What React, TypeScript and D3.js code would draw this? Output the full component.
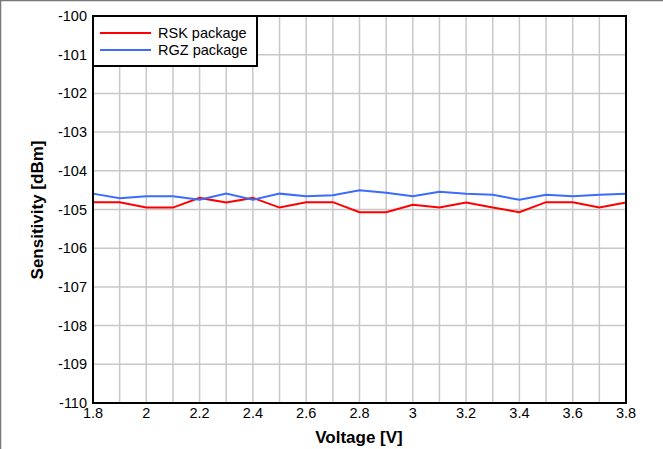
import React from "react";
import * as d3 from "d3";

const voltages = [1.8, 1.9, 2.0, 2.1, 2.2, 2.3, 2.4, 2.5, 2.6, 2.7, 2.8, 2.9, 3.0, 3.1, 3.2, 3.3, 3.4, 3.5, 3.6, 3.7, 3.8];
const rskValues = [-104.81, -104.81, -104.95, -104.95, -104.7, -104.82, -104.7, -104.95, -104.81, -104.81, -105.07, -105.07, -104.88, -104.95, -104.82, -104.95, -105.07, -104.81, -104.81, -104.95, -104.82];
const rgzValues = [-104.59, -104.71, -104.66, -104.66, -104.75, -104.59, -104.75, -104.59, -104.66, -104.63, -104.5, -104.57, -104.66, -104.54, -104.59, -104.62, -104.75, -104.62, -104.66, -104.62, -104.59];
const xTicks = [1.8, 2.0, 2.2, 2.4, 2.6, 2.8, 3.0, 3.2, 3.4, 3.6, 3.8];
const yTicks = [-100, -101, -102, -103, -104, -105, -106, -107, -108, -109, -110];
const seriesNames = ["RSK package", "RGZ package"];
const seriesColors = ["#ff0000", "#3a6cff"];

export default function App() {
  const W = 663, H = 449;
  const left = 93, right = 626, top = 16, bottom = 403;
  const x = d3.scaleLinear().domain([1.8, 3.8]).range([left, right]);
  const y = d3.scaleLinear().domain([-110, -100]).range([bottom, top]);
  const line = d3.line<number>().x((_, i) => x(voltages[i])).y((d) => y(d));
  const series = [rskValues, rgzValues];
  const font = "'Liberation Sans', Arial, sans-serif";
  return (
    <svg width={W} height={H} style={{ position: "absolute", left: 0, top: 0 }} fontFamily={font}>
      <rect x={0} y={0} width={W} height={H} fill="#fff" />
      <line x1={0} y1={0.5} x2={W} y2={0.5} stroke="#777" strokeWidth={1.5} />
      <line x1={0.5} y1={0} x2={0.5} y2={H} stroke="#777" strokeWidth={1.5} />
      {voltages.map((v) => (
        <line key={"gx" + v} x1={x(v)} x2={x(v)} y1={top} y2={bottom} stroke="#c8c8c8" strokeWidth={1.5} />
      ))}
      {yTicks.map((t) => (
        <line key={"gy" + t} x1={left} x2={right} y1={y(t)} y2={y(t)} stroke="#c8c8c8" strokeWidth={1.5} />
      ))}
      {series.map((s, i) => (
        <path key={i} d={line(s) || ""} fill="none" stroke={seriesColors[i]} strokeWidth={2} />
      ))}
      <rect x={left} y={top} width={right - left} height={bottom - top} fill="none" stroke="#000" strokeWidth={2} />
      {yTicks.map((t) => (
        <text key={"ty" + t} x={left - 6} y={y(t)} dy="0.35em" textAnchor="end" fontSize={14.5} fill="#000">
          {t}
        </text>
      ))}
      {xTicks.map((t) => (
        <text key={"tx" + t} x={x(t)} y={bottom + 15} textAnchor="middle" fontSize={14.5} fill="#000">
          {d3.format("")(+t.toFixed(1))}
        </text>
      ))}
      <text x={359} y={443} textAnchor="middle" fontSize={17} fontWeight="bold">
        Voltage [V]
      </text>
      <text transform={`translate(43,210) rotate(-90)`} textAnchor="middle" fontSize={17} fontWeight="bold">
        Sensitivity [dBm]
      </text>
      <g>
        <rect x={left} y={top} width={164} height={50} fill="#fff" stroke="#000" strokeWidth={2} />
        {seriesNames.map((n, i) => (
          <g key={n}>
            <line x1={left + 7} x2={left + 58} y1={top + 17 + i * 17} y2={top + 17 + i * 17} stroke={seriesColors[i]} strokeWidth={2} />
            <text x={left + 65} y={top + 17 + i * 17} dy="0.35em" fontSize={14.5}>
              {n}
            </text>
          </g>
        ))}
      </g>
    </svg>
  );
}
